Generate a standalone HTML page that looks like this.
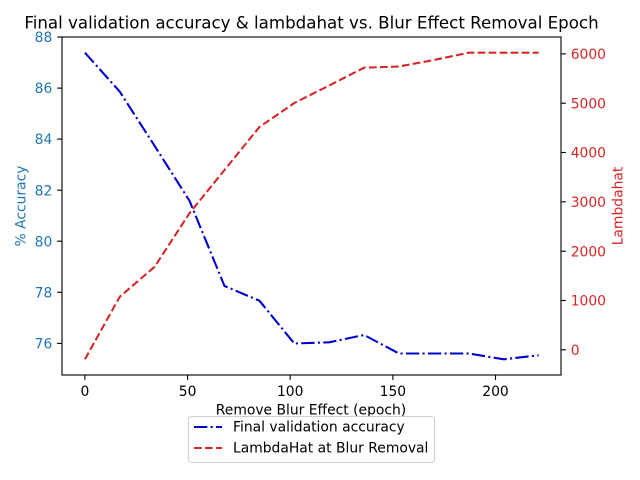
<!DOCTYPE html>
<html>
<head>
<meta charset="utf-8">
<style>
  html, body { margin: 0; padding: 0; background: #ffffff; }
  svg { display: block; }
  text { font-family: "DejaVu Sans", "Liberation Sans", sans-serif; }
</style>
</head>
<body>
<svg width="640" height="480" viewBox="0 0 640 480" xmlns="http://www.w3.org/2000/svg">
  <rect x="0" y="0" width="640" height="480" fill="#ffffff"/>

  <!-- Title -->
  <text x="311.5" y="28.5" font-size="16.67" text-anchor="middle" fill="#000">Final validation accuracy &amp; lambdahat vs. Blur Effect Removal Epoch</text>

  <!-- Series: accuracy (blue dash-dot) -->
  <polyline fill="none" stroke="#0000cd" stroke-width="2.08" stroke-dasharray="13.3 3.3 2.1 3.3" stroke-linejoin="round"
    points="84.9,52.7 119.8,91.7 154.7,146 189.6,201 224.5,286 259.4,300.7 294.3,343.5 329.2,342.3 364.1,335 399.0,353.5 433.9,353.5 468.8,353.5 503.7,359.3 538.6,355.3"/>

  <!-- Series: lambdahat (red dashed) -->
  <polyline fill="none" stroke="#d62728" stroke-width="2.08" stroke-dasharray="7.7 3.3" stroke-linejoin="round"
    points="84.9,359.3 119.8,296.7 154.7,266.7 189.6,213 224.5,170 259.4,127 294.3,103 329.2,85.5 364.1,67.7 399.0,66.5 433.9,60 468.8,52.7 503.7,52.7 538.6,52.7"/>

  <!-- Axes spines -->
  <rect x="62" y="37" width="499" height="338" fill="none" stroke="#000" stroke-width="1.11"/>

  <!-- Left y ticks -->
  <g stroke="#000" stroke-width="1.11">
    <line x1="57.1" y1="37" x2="62" y2="37"/>
    <line x1="57.1" y1="88.1" x2="62" y2="88.1"/>
    <line x1="57.1" y1="139.1" x2="62" y2="139.1"/>
    <line x1="57.1" y1="190.2" x2="62" y2="190.2"/>
    <line x1="57.1" y1="241.2" x2="62" y2="241.2"/>
    <line x1="57.1" y1="292.3" x2="62" y2="292.3"/>
    <line x1="57.1" y1="343.4" x2="62" y2="343.4"/>
  </g>
  <g font-size="13.89" fill="#1f77b4" text-anchor="end">
    <text x="52.3" y="42.1">88</text>
    <text x="52.3" y="93.2">86</text>
    <text x="52.3" y="144.2">84</text>
    <text x="52.3" y="195.3">82</text>
    <text x="52.3" y="246.3">80</text>
    <text x="52.3" y="297.4">78</text>
    <text x="52.3" y="348.5">76</text>
  </g>

  <!-- Right y ticks -->
  <g stroke="#000" stroke-width="1.11">
    <line x1="561" y1="349.8" x2="565.9" y2="349.8"/>
    <line x1="561" y1="300.5" x2="565.9" y2="300.5"/>
    <line x1="561" y1="251.2" x2="565.9" y2="251.2"/>
    <line x1="561" y1="201.8" x2="565.9" y2="201.8"/>
    <line x1="561" y1="152.5" x2="565.9" y2="152.5"/>
    <line x1="561" y1="103.2" x2="565.9" y2="103.2"/>
    <line x1="561" y1="53.9" x2="565.9" y2="53.9"/>
  </g>
  <g font-size="13.89" fill="#d62728" text-anchor="start">
    <text x="570.7" y="354.9">0</text>
    <text x="570.7" y="305.6">1000</text>
    <text x="570.7" y="256.3">2000</text>
    <text x="570.7" y="206.9">3000</text>
    <text x="570.7" y="157.6">4000</text>
    <text x="570.7" y="108.3">5000</text>
    <text x="570.7" y="59.0">6000</text>
  </g>

  <!-- X ticks -->
  <g stroke="#000" stroke-width="1.11">
    <line x1="84.9" y1="375" x2="84.9" y2="379.9"/>
    <line x1="187.6" y1="375" x2="187.6" y2="379.9"/>
    <line x1="290.2" y1="375" x2="290.2" y2="379.9"/>
    <line x1="392.9" y1="375" x2="392.9" y2="379.9"/>
    <line x1="495.5" y1="375" x2="495.5" y2="379.9"/>
  </g>
  <g font-size="13.89" fill="#000" text-anchor="middle">
    <text x="84.9" y="396">0</text>
    <text x="187.6" y="396">50</text>
    <text x="290.2" y="396">100</text>
    <text x="392.9" y="396">150</text>
    <text x="495.5" y="396">200</text>
  </g>

  <!-- Axis labels -->
  <text x="311" y="414.5" font-size="13.89" text-anchor="middle" fill="#000">Remove Blur Effect (epoch)</text>
  <text transform="translate(25.5,206) rotate(-90)" font-size="13.89" text-anchor="middle" fill="#1f77b4">% Accuracy</text>
  <text transform="translate(622.5,206) rotate(-90)" font-size="13.89" text-anchor="middle" fill="#d62728">Lambdahat</text>

  <!-- Legend -->
  <rect x="188.5" y="416.5" width="246" height="46" rx="3" ry="3" fill="#ffffff" fill-opacity="0.8" stroke="#d0d0d0" stroke-width="1.11"/>
  <line x1="194" y1="427" x2="222" y2="427" stroke="#0000cd" stroke-width="2.08" stroke-dasharray="13.3 3.3 2.1 3.3"/>
  <line x1="194" y1="448" x2="222" y2="448" stroke="#d62728" stroke-width="2.08" stroke-dasharray="7.7 3.3"/>
  <text x="233" y="431.5" font-size="13.89" fill="#000">Final validation accuracy</text>
  <text x="233" y="452.5" font-size="13.89" fill="#000">LambdaHat at Blur Removal</text>
</svg>
</body>
</html>
